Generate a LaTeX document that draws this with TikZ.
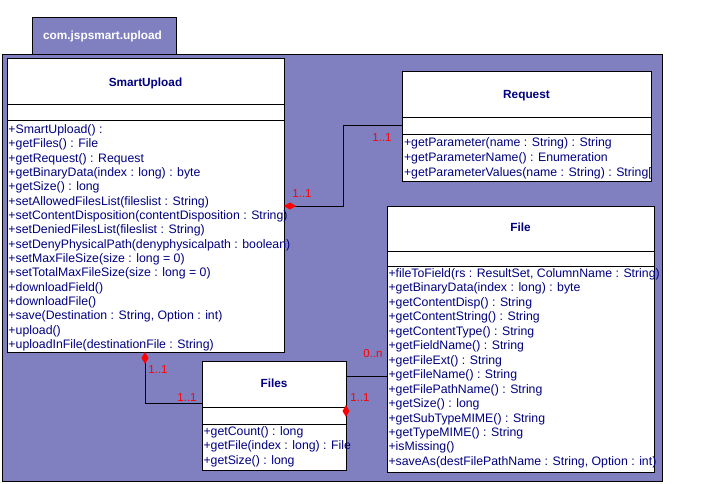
\documentclass[tikz,border=0pt]{standalone}
\usepackage{fontspec}
\setmainfont{Liberation Sans}
\usetikzlibrary{arrows.meta}
\definecolor{pkg}{RGB}{128,128,192}
\definecolor{navy}{RGB}{0,0,128}
\newcommand\methlist[5]{%
  \foreach \t [count=\i from 0] in {#5} {\node[meth] (#1-m\i) at (#2, #3+\i*#4) {\t};}}
\begin{document}
\begin{tikzpicture}[x=1pt,y=-1pt, line width=1pt,
  cls/.style={draw=black, fill=white, anchor=north west, inner sep=0, outer sep=0},
  ttl/.style={font=\fontsize{11.8}{14}\selectfont\bfseries, text=navy, anchor=base, inner sep=0},
  meth/.style={font=\fontsize{12.3}{14}\selectfont, text=navy, anchor=base west, inner sep=0},
  mult/.style={font=\fontsize{11.5}{13}\selectfont, text=red, inner sep=0},
  compo/.style={draw=black, {Diamond[length=12pt,width=7pt,color=red,fill=red]}-},
]
\useasboundingbox[fill=white] (0,0) rectangle (723,484);
% package
\node[draw=black, fill=pkg, anchor=north west, inner sep=0, outer sep=0, minimum width=144, minimum height=37] (tab) at (32,18) {};
\node[draw=black, fill=pkg, anchor=north west, inner sep=0, outer sep=0, minimum width=660, minimum height=426] (pkgbox) at (2,55) {};
\node[font=\fontsize{11.8}{14}\selectfont\bfseries, text=white, anchor=base, inner sep=0] (tabtext) at (102.5,39.8) {com.jspsmart.upload};
% classes
\node[cls, minimum width=277, minimum height=293] (su) at (7,59) {};
\draw ([yshift=-46pt]su.north west) -- ([yshift=-46pt]su.north east);
\draw ([yshift=-62pt]su.north west) -- ([yshift=-62pt]su.north east);
\node[ttl] (su-t) at (145.5,86.2) {SmartUpload};
\methlist{su}{8}{133.4}{14.35}{+SmartUpload() :, +getFiles() : File, +getRequest() : Request, +getBinaryData(index : long) : byte, +getSize() : long, +setAllowedFilesList(fileslist : String), +setContentDisposition(contentDisposition : String), +setDeniedFilesList(fileslist : String), +setDenyPhysicalPath(denyphysicalpath : boolean), +setMaxFileSize(size : long = 0), +setTotalMaxFileSize(size : long = 0), +downloadField(), +downloadFile(), {+save(Destination : String, Option : int)}, +upload(), +uploadInFile(destinationFile : String)}

\node[cls, minimum width=249, minimum height=109] (req) at (402,72) {};
\draw ([yshift=-46pt]req.north west) -- ([yshift=-46pt]req.north east);
\draw ([yshift=-63pt]req.north west) -- ([yshift=-63pt]req.north east);
\node[ttl] (req-t) at (526.5,98.2) {Request};
\methlist{req}{403.5}{146.6}{14.7}{+getParameter(name : String) : String, +getParameterName() : Enumeration, +getParameterValues(name : String) : String[}

\node[cls, minimum width=267, minimum height=266] (file) at (387,206) {};
\draw ([yshift=-45pt]file.north west) -- ([yshift=-45pt]file.north east);
\draw ([yshift=-60pt]file.north west) -- ([yshift=-60pt]file.north east);
\node[ttl] (file-t) at (520.5,231.2) {File};
\methlist{file}{388}{277.4}{14.46}{{+fileToField(rs : ResultSet, ColumnName : String)}, +getBinaryData(index : long) : byte, +getContentDisp() : String, +getContentString() : String, +getContentType() : String, +getFieldName() : String, +getFileExt() : String, +getFileName() : String, +getFilePathName() : String, +getSize() : long, +getSubTypeMIME() : String, +getTypeMIME() : String, +isMissing(), {+saveAs(destFilePathName : String, Option : int)}}

\node[cls, minimum width=144, minimum height=109] (fs) at (202,361) {};
\draw ([yshift=-46pt]fs.north west) -- ([yshift=-46pt]fs.north east);
\draw ([yshift=-63pt]fs.north west) -- ([yshift=-63pt]fs.north east);
\node[ttl] (fs-t) at (274,387.2) {Files};
\methlist{fs}{203}{435.4}{14.5}{+getCount() : long, +getFile(index : long) : File, +getSize() : long}

% connectors
\coordinate (k1) at (343,206);
\coordinate (k2) at (343,126);
\draw[compo] (su.east |- k1) -- (k1) -- (k2) -- (k2 -| req.west);
\coordinate (k3) at (145,403);
\draw[compo] (su.south -| k3) -- (k3) -- (k3 -| fs.west);
\coordinate (k4) at (366,376);
\draw (fs.east |- k4) -- (file.west |- k4);
\coordinate (k5) at (346,411);
\fill[red] (fs.east |- k5) +(0,-6) -- +(3.5,0) -- +(0,6) -- +(-3.5,0) -- cycle;
% multiplicities
\node[mult] (l1) at (302,194) {1..1};
\node[mult] (l2) at (382,138) {1..1};
\node[mult] (l3) at (158,370) {1..1};
\node[mult] (l4) at (187,398) {1..1};
\node[mult] (l5) at (373,354) {0..n};
\node[mult] (l6) at (360,398) {1..1};
\end{tikzpicture}
\end{document}
